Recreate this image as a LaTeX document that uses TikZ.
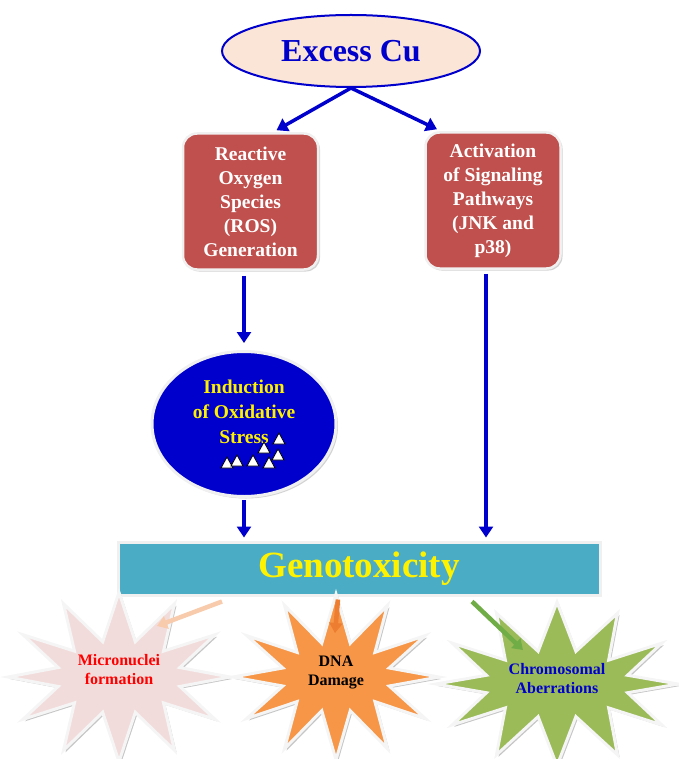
\documentclass[tikz,border=0pt]{standalone}
\usepackage{fontspec}
\setmainfont{Liberation Serif}
\usetikzlibrary{shapes.geometric,shapes.symbols,arrows.meta,shadows}
\definecolor{cublue}{HTML}{0000CC}
\definecolor{cupeach}{HTML}{FBE5D6}
\definecolor{rosred}{HTML}{C0504D}
\definecolor{oxblue}{HTML}{0000CD}
\definecolor{genoteal}{HTML}{4BACC6}
\definecolor{mnpink}{HTML}{F2DCDB}
\definecolor{dnaorange}{HTML}{F79646}
\definecolor{cagreen}{HTML}{9BBB59}
\definecolor{peachar}{HTML}{F8CBAD}
\definecolor{orangear}{HTML}{ED7D31}
\definecolor{greenar}{HTML}{70AD47}
\tikzset{
  stepbox/.style={rectangle, rounded corners=14pt, fill=rosred, draw=gray!12, line width=2.5pt, minimum width=135pt, minimum height=136pt, align=center, text=white, font=\bfseries\fontsize{19.5}{24}\selectfont, drop shadow={shadow xshift=2pt, shadow yshift=-2pt, opacity=0.35}},
  flow/.style={draw=cublue, line width=3.5pt, -{Triangle[width=14pt,length=11pt]}},
  burst/.style={starburst, starburst points=12, starburst point height=48pt, random starburst=0, draw=gray!8, line width=3pt, align=center, font=\bfseries\fontsize{16}{19}\selectfont, drop shadow={shadow xshift=2pt, shadow yshift=-2pt, opacity=0.45}},
  effect/.style={line width=4.5pt, -{Triangle[width=13pt,length=10pt]}}
}
\begin{document}
\begin{tikzpicture}[x=1pt, y=-1pt]
\useasboundingbox (0,0) rectangle (678,759);
\node[ellipse, fill=cupeach, draw=cublue, line width=2pt, minimum width=258pt, minimum height=72pt, text=cublue, font=\bfseries\fontsize{32}{36}\selectfont] (cu) at (351,51) {Excess Cu};
\node[stepbox] (ros) at (250.5,201.5) {Reactive\\Oxygen\\Species\\(ROS)\\Generation};
\node[stepbox] (sig) at (493,200.5) {Activation\\of Signaling\\Pathways\\(JNK and\\p38)};
\node[ellipse, fill=oxblue, draw=gray!12, line width=3pt, minimum width=184pt, minimum height=145pt, drop shadow={shadow xshift=2pt, shadow yshift=-2pt, opacity=0.35}] (ox) at (244,424) {};
\node[align=center, text=yellow, font=\bfseries\fontsize{19.5}{25}\selectfont] (oxtext) at (244,412) {Induction\\of Oxidative\\Stress};
\foreach \x/\y in {279/439, 264/448, 278/455, 227/463, 237/461, 253/461, 269/463}
  \draw[fill=white, line width=0.8pt] (\x-6,\y+5) -- (\x+6,\y+5) -- (\x,\y-6) -- cycle;
\node[rectangle, fill=genoteal, draw=gray!12, line width=3pt, minimum width=482pt, minimum height=53pt, text=yellow, font=\bfseries\fontsize{37}{40}\selectfont, drop shadow={shadow xshift=2pt, shadow yshift=-2pt, opacity=0.35}] (geno) at (359,568.5) {Genotoxicity};
\node[burst, fill=mnpink, text=red, minimum width=204pt, minimum height=166pt] (mn) at (119,677) {Micronuclei\\formation\\[-4pt]\rule{0pt}{12pt}};
\node[burst, fill=dnaorange, text=black, minimum width=206pt, minimum height=165pt] (dna) at (336,677) {DNA\\Damage\\[-6pt]\rule{0pt}{10pt}};
\node[burst, fill=cagreen, text=cublue, minimum width=240pt, minimum height=148pt] (ca) at (557,684) {Chromosomal\\Aberrations\\[-8pt]\rule{0pt}{8pt}};
\draw[flow] (cu.south) -- ([xshift=26pt,yshift=2pt]ros.north);
\draw[flow] (cu.south) -- ([xshift=-56pt,yshift=2pt]sig.north);
\draw[flow] ([yshift=-5pt]ros.south -| ox.north) -- ([yshift=7pt]ox.north);
\draw[flow] ([yshift=-2pt]ox.south) -- ([yshift=3pt]geno.north -| ox.south);
\draw[flow] ([xshift=-7pt,yshift=-4pt]sig.south) -- ([xshift=-7pt,yshift=3pt]geno.north -| sig.south);
\draw[effect, draw=peachar] ([xshift=-137pt,yshift=-5pt]geno.south) -- ([xshift=38pt,yshift=51pt]mn.center);
\draw[effect, draw=orangear] ([xshift=-21pt,yshift=-3pt]geno.south) -- ([xshift=-1pt,yshift=44pt]dna.center);
\draw[effect, draw=greenar] ([xshift=113pt,yshift=-5pt]geno.south) -- ([xshift=-34pt,yshift=34pt]ca.center);
\end{tikzpicture}
\end{document}
